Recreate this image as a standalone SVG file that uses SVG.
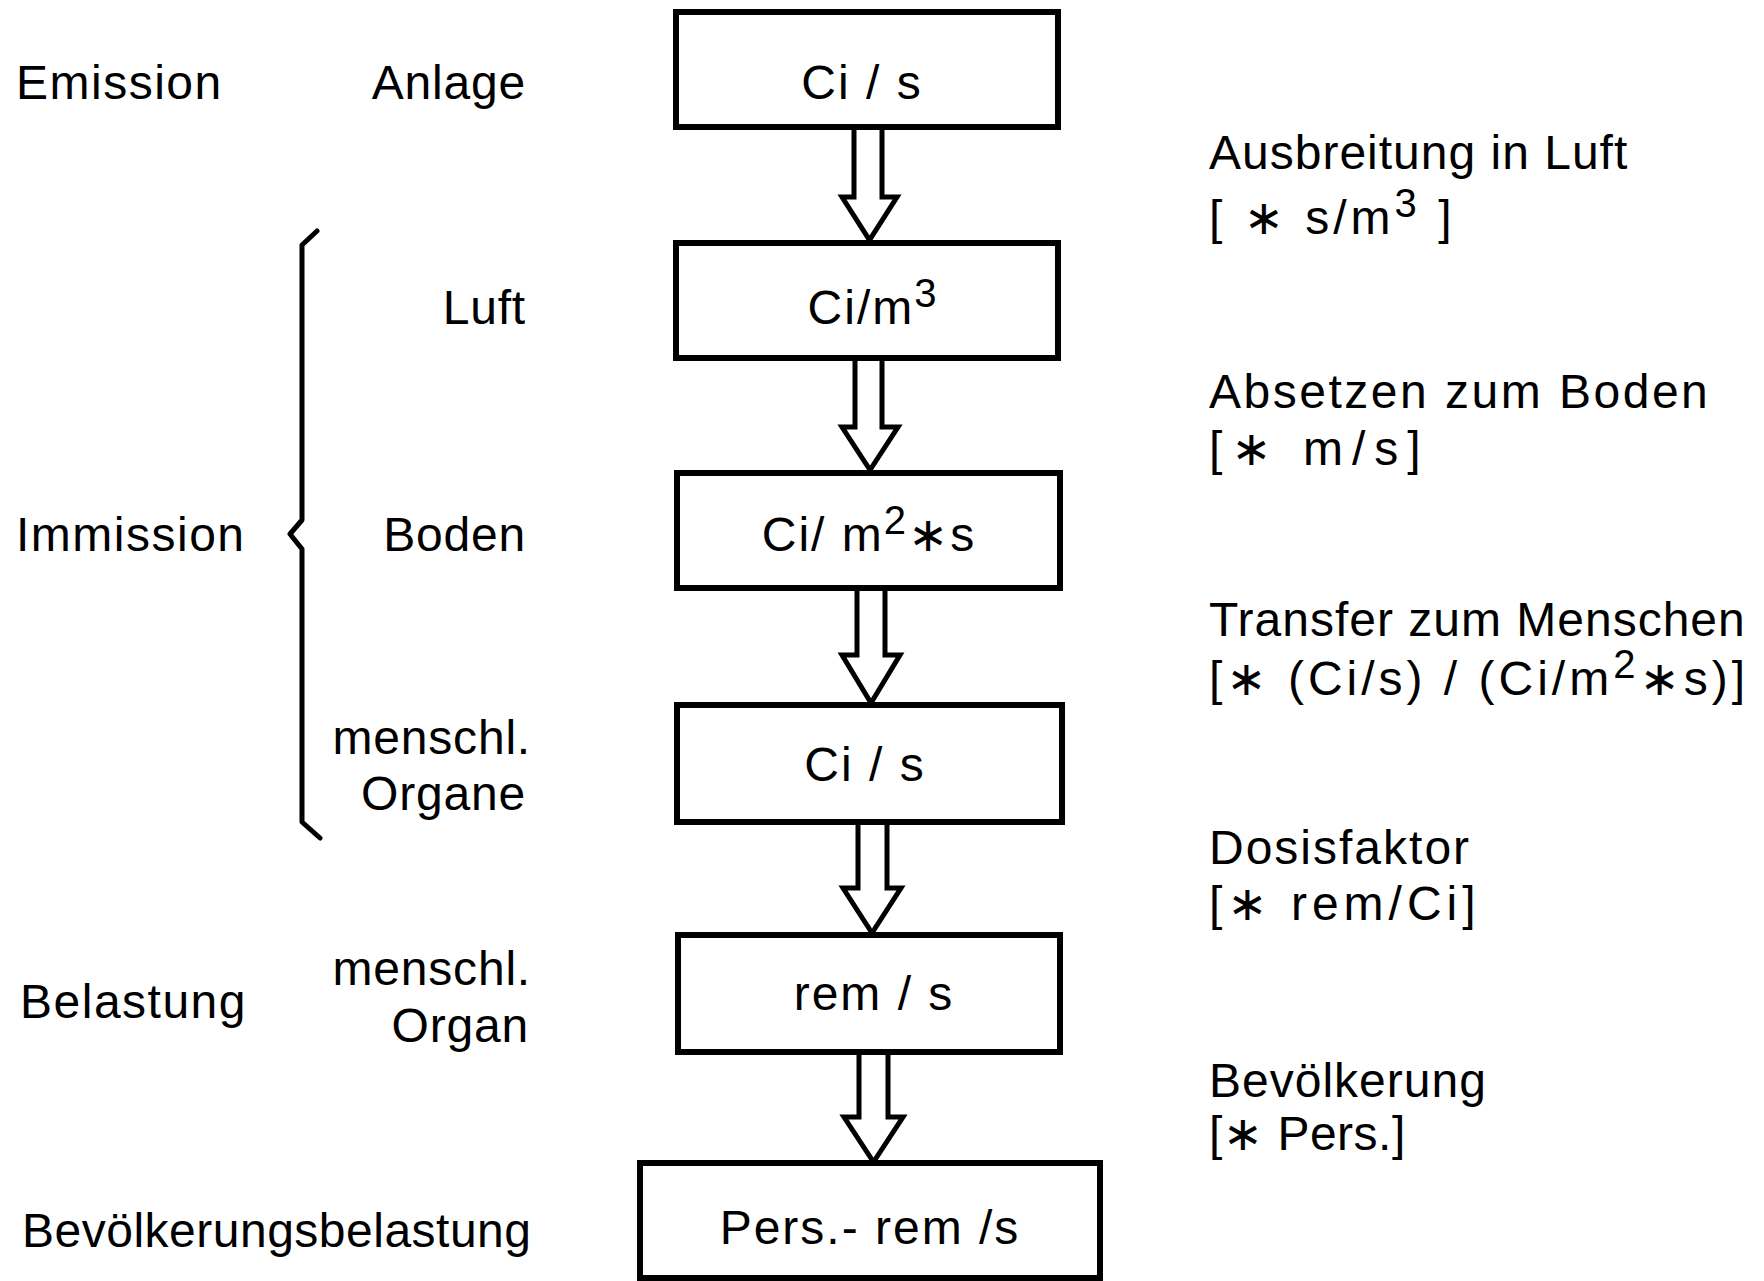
<svg xmlns="http://www.w3.org/2000/svg" width="1764" height="1281" viewBox="0 0 1764 1281">
<style>
text{font-family:"Liberation Sans","DejaVu Sans",sans-serif;font-size:48px;fill:#000;letter-spacing:1.5px}
.r{text-anchor:end;letter-spacing:0.8px}
.m{text-anchor:middle;letter-spacing:2px}
.box{fill:#fff;stroke:#000;stroke-width:6}
.arr{fill:#fff;stroke:#000;stroke-width:5;stroke-linejoin:miter}
.sup{font-size:40px}
.br{fill:none;stroke:#000;stroke-width:5;stroke-linejoin:round;stroke-linecap:round}
</style>
<rect width="1764" height="1281" fill="#fff"/>
<g id="connectors">
<path class="arr" d="M854,127 V197 H842 L869.5,240 L897,197 H882 V127"/>
<path class="arr" d="M855,358 V427 H842 L870,470 L898,427 H882 V358"/>
<path class="arr" d="M857,588 V655 H842 L871,703 L900,655 H885 V588"/>
<path class="arr" d="M858,822 V888 H843 L872,933 L901,888 H887 V822"/>
<path class="arr" d="M859,1053 V1117 H844 L873.5,1162 L903,1117 H888 V1053"/>
</g>
<g id="box1"><rect class="box" x="676" y="12" width="382" height="115"/><text class="m" x="862" y="99">Ci / s</text></g>
<g id="box2"><rect class="box" x="676" y="243" width="382" height="115"/><text class="m" x="873" y="324">Ci/m<tspan class="sup" dy="-17">3</tspan></text></g>
<g id="box3"><rect class="box" x="677" y="473" width="383" height="115"/><text class="m" x="869" y="551">Ci/ m<tspan class="sup" dy="-17">2</tspan><tspan dy="17">∗s</tspan></text></g>
<g id="box4"><rect class="box" x="677" y="705" width="385" height="117"/><text class="m" x="865" y="781">Ci / s</text></g>
<g id="box5"><rect class="box" x="678" y="935" width="382" height="117"/><text class="m" x="874" y="1010">rem / s</text></g>
<g id="box6"><rect class="box" x="640" y="1163" width="460" height="115"/><text class="m" x="870" y="1244" style="letter-spacing:2px">Pers.- rem /s</text></g>
<g id="left-labels">
<text x="16" y="99">Emission</text>
<text class="r" x="526" y="99">Anlage</text>
<text class="r" x="526" y="324">Luft</text>
<text x="16" y="551">Immission</text>
<text class="r" x="526" y="551">Boden</text>
<text class="r" x="531" y="754">menschl.</text>
<text class="r" x="526" y="810">Organe</text>
<text x="20" y="1018">Belastung</text>
<text class="r" x="531" y="985">menschl.</text>
<text class="r" x="529" y="1042">Organ</text>
<text x="22" y="1247" style="letter-spacing:0.5px">Bevölkerungsbelastung</text>
<path id="brace" class="br" d="M317,231 L302,245 L302,520 L290,534 L302,549 L302,822 L320,838"/>
</g>
<g id="right-labels">
<text x="1209" y="169" style="letter-spacing:1px">Ausbreitung in Luft</text>
<text x="1209" y="234" style="letter-spacing:4px">[ ∗ s/m<tspan class="sup" dy="-17">3</tspan><tspan dy="17"> ]</tspan></text>
<text x="1209" y="408" style="letter-spacing:2.5px">Absetzen zum Boden</text>
<text x="1209" y="465" style="letter-spacing:9px">[∗ m/s]</text>
<text x="1209" y="636" style="letter-spacing:1px">Transfer zum Menschen</text>
<text x="1209" y="695" style="letter-spacing:4px">[∗ (Ci/s) / (Ci/m<tspan class="sup" dy="-17">2</tspan><tspan dy="17">∗s)]</tspan></text>
<text x="1209" y="864" style="letter-spacing:2px">Dosisfaktor</text>
<text x="1209" y="920" style="letter-spacing:5px">[∗ rem/Ci]</text>
<text x="1209" y="1097" style="letter-spacing:1px">Bevölkerung</text>
<text x="1209" y="1150" style="letter-spacing:0.5px">[∗ Pers.]</text>
</g>
</svg>
